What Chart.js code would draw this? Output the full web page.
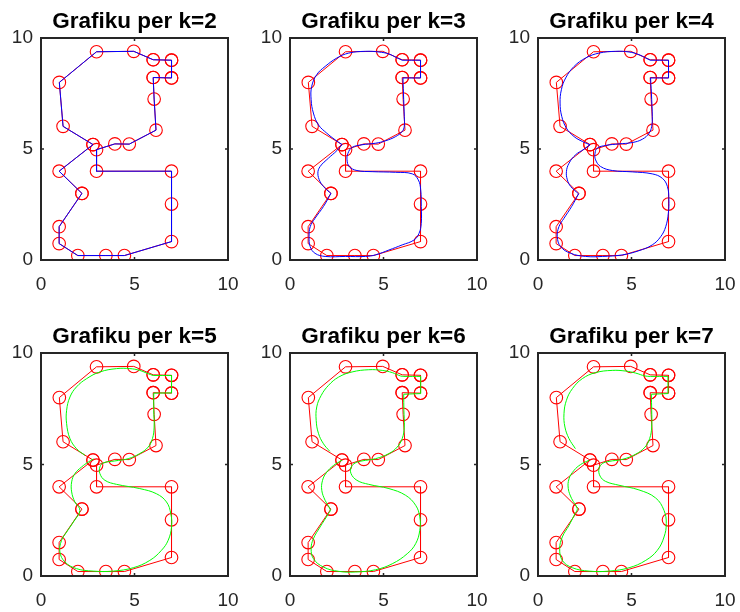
<!DOCTYPE html>
<html>
<head>
<meta charset="utf-8">
<script src="https://cdn.jsdelivr.net/npm/chart.js@4.4.1/dist/chart.umd.min.js"></script>
<style>
  html, body { margin: 0; padding: 0; background: #ffffff; }
  body { width: 740px; height: 612px; position: relative; overflow: hidden; }
  canvas { position: absolute; }
</style>
</head>
<body>
<canvas id="c2" width="252" height="300" style="left:0px;top:0px;width:252px;height:300px"></canvas>
<canvas id="c3" width="252" height="300" style="left:249px;top:0px;width:252px;height:300px"></canvas>
<canvas id="c4" width="252" height="300" style="left:497px;top:0px;width:252px;height:300px"></canvas>
<canvas id="c5" width="252" height="301" style="left:0px;top:315px;width:252px;height:301px"></canvas>
<canvas id="c6" width="252" height="301" style="left:249px;top:315px;width:252px;height:301px"></canvas>
<canvas id="c7" width="252" height="301" style="left:497px;top:315px;width:252px;height:301px"></canvas>
<script>
// ---- data ----
const axisMin = 0, axisMax = 10, tickStep = 5;
const orders = [2, 3, 4, 5, 6, 7];
const titlePrefix = 'Grafiku per k=';

// control polygon (closed); repeated points are drawn twice in the reference
const controlPoints = [
  [2.78,5.2],[1.18,6.02],[0.98,8.0],[2.97,9.38],[4.96,9.4],
  [6.0,9.02],[6.0,9.02],[6.98,9.0],[6.98,9.0],[6.98,8.2],[6.98,8.2],[6.0,8.22],[6.0,8.22],
  [6.05,7.25],[6.15,5.85],[4.72,5.22],[3.95,5.23],[2.97,4.97],[2.97,4.0],
  [6.98,4.0],[6.98,2.52],[6.98,0.83],[4.46,0.2],[3.47,0.2],[1.97,0.2],
  [0.97,0.74],[0.97,1.5],[2.19,3.0],[2.19,3.0],[0.97,4.0],[2.78,5.2]
];

// k=2 curve coincides with the control polygon
const curveK2 = controlPoints;

const curveK3 = [
  [2.78,5.2],[2.42,5.41],[1.97,5.71],[1.52,6.09],[1.25,6.62],[1.13,7.22],[1.16,7.82],[1.43,8.35],
  [1.88,8.72],[2.51,9.1],[3.14,9.32],[4.03,9.4],[4.75,9.37],[5.29,9.28],[5.73,9.1],
  [6.0,9.0],[6.0,9.0],[6.98,9.0],[6.98,9.0],[6.98,8.2],[6.98,8.2],[6.04,8.2],[6.04,8.2],
  [6.08,7.22],[6.11,6.47],[6.11,6.02],[6.0,5.79],[5.65,5.56],[5.11,5.37],[4.57,5.26],[3.85,5.19],
  [3.32,5.07],[3.1,4.81],[3.05,4.51],[3.17,4.21],[3.58,4.03],[4.39,3.98],[5.65,3.95],[6.54,3.88],
  [6.86,3.61],[6.99,3.16],[7.02,2.41],[7.02,1.65],[6.9,1.2],[6.63,0.9],[6.0,0.68],[5.29,0.45],
  [4.57,0.23],[4.03,0.16],[2.96,0.16],[1.88,0.16],[1.34,0.3],[1.08,0.6],[1.02,1.05],[1.08,1.5],
  [1.34,1.88],[1.79,2.41],[2.19,3.0],[2.19,3.0],[1.88,3.23],[1.61,3.53],[1.49,3.91],[1.61,4.21],
  [2.06,4.59],[2.51,4.93],[2.78,5.2]
];

const curveK4 = [
  [2.78,5.19],[2.37,5.34],[1.93,5.56],[1.52,5.94],[1.27,6.47],[1.18,7.07],[1.25,7.67],[1.48,8.2],
  [1.93,8.72],[2.55,9.1],[3.26,9.32],[4.15,9.4],[4.87,9.37],[5.4,9.25],[5.76,9.1],
  [6.0,9.0],[6.0,9.0],[6.98,9.0],[6.98,9.0],[6.98,8.2],[6.98,8.2],[6.02,8.2],[6.02,8.2],
  [6.08,7.22],[6.11,6.47],[6.08,6.02],[5.94,5.71],[5.58,5.44],[5.04,5.29],[4.33,5.23],[3.62,5.16],
  [3.17,5.04],[3.05,4.81],[3.08,4.51],[3.35,4.21],[3.98,4.03],[5.04,3.97],[6.11,3.88],[6.65,3.68],
  [6.92,3.31],[7.0,2.71],[6.97,2.11],[6.83,1.5],[6.56,1.05],[6.11,0.68],[5.4,0.42],[4.51,0.23],
  [3.44,0.16],[2.55,0.16],[1.75,0.3],[1.21,0.6],[1.03,1.05],[1.12,1.5],[1.39,1.88],[1.8,2.41],
  [2.17,2.98],[2.17,2.98],[1.75,3.31],[1.57,3.61],[1.52,3.98],[1.66,4.36],[2.01,4.74],[2.46,4.99],
  [2.78,5.19]
];

const curveK5 = [
  [2.35,5.41],[1.9,5.71],[1.55,6.16],[1.37,6.83],[1.37,7.43],[1.55,8.03],[1.9,8.48],[2.44,8.85],
  [3.15,9.15],[4.04,9.3],[4.75,9.3],[5.28,9.22],[5.73,9.07],
  [6.0,8.99],[6.0,8.99],[6.98,8.99],[6.98,8.99],[6.98,8.21],[6.98,8.21],[6.03,8.2],[6.03,8.2],
  [6.03,7.43],[6.05,6.68],[5.96,6.16],[5.73,5.78],[5.28,5.49],[4.66,5.26],[3.95,5.16],[3.33,5.07],
  [3.15,4.89],[3.15,4.59],[3.42,4.29],[4.04,4.11],[5.28,3.92],[6.17,3.69],[6.71,3.32],[6.94,2.8],
  [6.98,2.2],[6.8,1.6],[6.44,1.15],[5.82,0.7],[4.93,0.37],[3.86,0.22],[2.79,0.22],[1.9,0.33],
  [1.28,0.63],[1.01,1.08],[1.1,1.6],[1.37,1.97],[1.73,2.42],[2.08,2.94],[1.81,3.32],[1.64,3.77],
  [1.64,4.22],[1.81,4.59],[2.17,4.89],[2.53,5.11],[2.8,5.25]
];

const curveK6 = [
  [2.13,5.59],[1.79,5.93],[1.52,6.4],[1.4,6.98],[1.43,7.58],[1.67,8.1],[2.06,8.55],[2.6,8.92],
  [3.32,9.15],[4.21,9.25],[4.93,9.22],[5.47,9.12],[5.91,8.97],
  [6.09,8.95],[6.09,8.95],[6.99,8.95],[6.99,8.95],[6.99,8.18],[6.99,8.18],[6.08,8.15],[6.08,8.15],
  [6.09,7.43],[6.11,6.68],[6.0,6.16],[5.73,5.78],[5.29,5.49],[4.57,5.26],[3.85,5.16],[3.49,5.07],
  [3.28,4.89],[3.26,4.6],[3.58,4.29],[4.21,4.11],[5.29,3.92],[6.18,3.62],[6.72,3.17],[6.94,2.65],
  [6.94,2.05],[6.72,1.45],[6.27,1.0],[5.47,0.55],[4.57,0.28],[3.49,0.18],[2.6,0.21],[1.79,0.4],
  [1.25,0.78],[1.13,1.23],[1.25,1.67],[1.61,2.2],[2.06,2.8],[2.15,2.97],[1.88,3.39],[1.7,3.84],
  [1.74,4.29],[1.97,4.66],[2.33,4.96],[2.78,5.19]
];

const curveK7 = [
  [2.0,5.71],[1.66,6.16],[1.44,6.68],[1.39,7.28],[1.52,7.88],[1.84,8.4],[2.37,8.85],[3.08,9.12],
  [3.97,9.22],[4.69,9.19],[5.22,9.1],[5.72,8.97],
  [6.02,8.95],[6.02,8.95],[6.95,8.95],[6.95,8.95],[6.95,8.18],[6.95,8.18],[6.06,8.15],[6.06,8.15],
  [6.08,7.43],[6.08,6.68],[5.97,6.16],[5.72,5.78],[5.22,5.46],[4.51,5.23],[3.8,5.14],[3.44,5.04],
  [3.26,4.81],[3.32,4.48],[3.62,4.24],[4.33,4.07],[5.4,3.86],[6.29,3.5],[6.74,2.94],[6.86,2.35],
  [6.74,1.75],[6.38,1.15],[5.76,0.7],[4.87,0.37],[3.8,0.22],[2.73,0.22],[1.84,0.37],[1.3,0.7],
  [1.16,1.23],[1.3,1.75],[1.66,2.27],[1.98,2.8],[2.1,3.02],[1.8,3.47],[1.62,3.92],[1.66,4.36],
  [1.93,4.74],[2.28,5.0],[2.73,5.19]
];

const curves = [curveK2, curveK3, curveK4, curveK5, curveK6, curveK7];
const curveColors = ['#0000ff','#0000ff','#0000ff','#00ff00','#00ff00','#00ff00'];

// ---- drawing ----
const FONT = "'Liberation Sans', Arial, Helvetica, sans-serif";
const toXY = arr => arr.map(p => ({x: p[0], y: p[1]}));

const framePlugin = {
  id: 'matlabFrame',
  afterDatasetsDraw(chart) {
    const {ctx, chartArea: a, scales} = chart;
    ctx.save();
    ctx.strokeStyle = '#262626';
    ctx.lineWidth = 2;
    ctx.strokeRect(a.left, a.top, a.right - a.left, a.bottom - a.top);
    ctx.lineWidth = 1.5;
    const tl = 3;
    for (let v = axisMin; v <= axisMax; v += tickStep) {
      const px = scales.x.getPixelForValue(v);
      const py = scales.y.getPixelForValue(v);
      ctx.beginPath();
      ctx.moveTo(px, a.bottom); ctx.lineTo(px, a.bottom - tl);
      ctx.moveTo(px, a.top); ctx.lineTo(px, a.top + tl);
      ctx.moveTo(a.left, py); ctx.lineTo(a.left + tl, py);
      ctx.moveTo(a.right, py); ctx.lineTo(a.right - tl, py);
      ctx.stroke();
    }
    ctx.restore();
  }
};

orders.forEach((k, i) => {
  const curve = curves[i];
  new Chart(document.getElementById('c' + k), {
    type: 'scatter',
    data: {
      datasets: [
        {
          data: toXY(curve),
          showLine: true,
          borderColor: curveColors[i],
          borderWidth: 1,
          pointRadius: 0,
          tension: k === 2 ? 0 : 0.4,
          fill: false
        },
        {
          data: toXY(controlPoints),
          showLine: true,
          borderColor: '#ff0000',
          borderWidth: 1,
          pointRadius: 6.3,
          pointStyle: 'circle',
          pointBorderColor: '#ff0000',
          pointBorderWidth: 1.1,
          pointBackgroundColor: 'rgba(0,0,0,0)',
          tension: 0,
          fill: false
        }
      ]
    },
    options: {
      responsive: false,
      animation: false,
      devicePixelRatio: 1,
      layout: { padding: { left: 0, right: 24, top: 0, bottom: 0 } },
      plugins: {
        legend: { display: false },
        tooltip: { enabled: false },
        title: {
          display: true,
          fullSize: false,
          text: titlePrefix + k,
          color: '#000000',
          font: { family: FONT, size: 22.5, weight: 'bold', lineHeight: 1.2 },
          padding: { top: 8.3, bottom: 2.7 }
        }
      },
      scales: {
        x: {
          type: 'linear', min: axisMin, max: axisMax,
          ticks: { stepSize: tickStep, color: '#262626', font: { family: FONT, size: 19 }, padding: 13, maxRotation: 0 },
          grid: { display: false, drawTicks: false },
          border: { display: false },
          afterFit: s => { s.height = 40; }
        },
        y: {
          type: 'linear', min: axisMin, max: axisMax,
          ticks: { stepSize: tickStep, color: '#262626', font: { family: FONT, size: 19 }, padding: 8 },
          grid: { display: false, drawTicks: false },
          border: { display: false },
          afterFit: s => { s.width = 41; }
        }
      }
    },
    plugins: [framePlugin]
  });
});
</script>
</body>
</html>
